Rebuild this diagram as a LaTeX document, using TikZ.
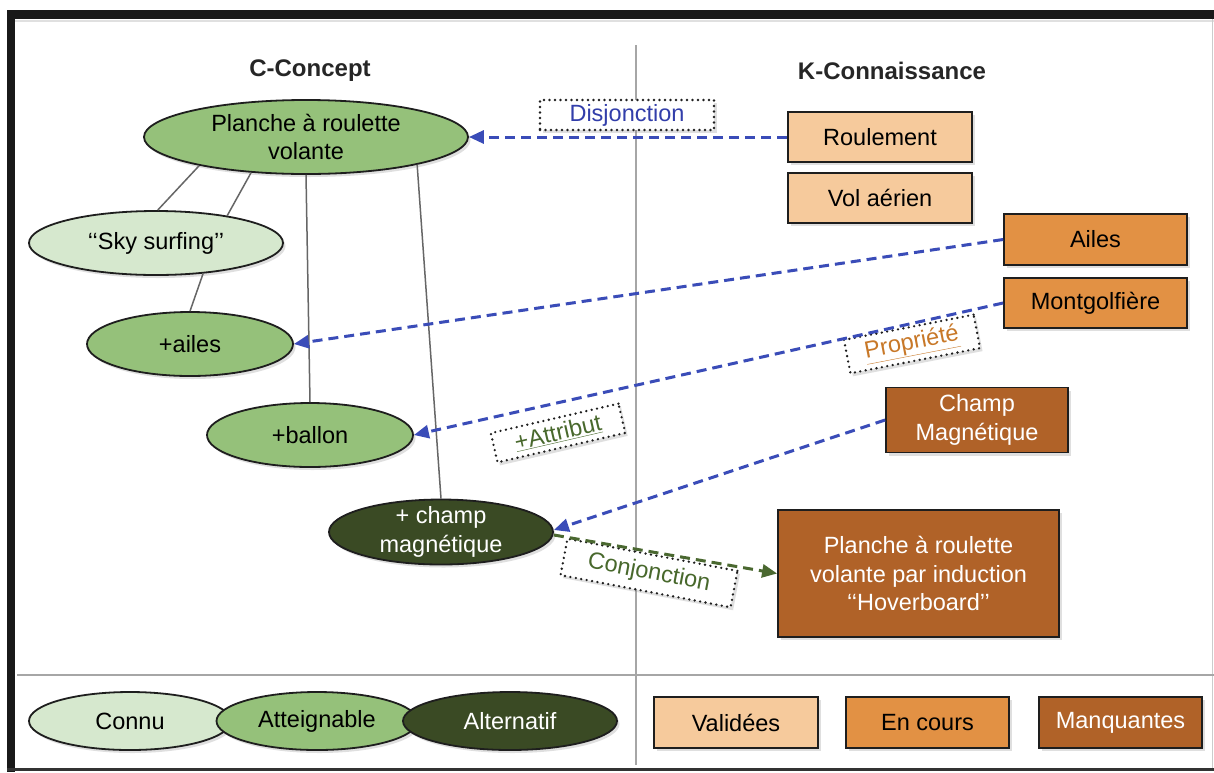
\documentclass[tikz,border=0pt]{standalone}
\usepackage{fontspec}
\setmainfont{Liberation Sans}
\usetikzlibrary{shapes.geometric,arrows.meta,shadows}
\definecolor{cLight}{RGB}{214,232,206}
\definecolor{cMid}{RGB}{149,193,122}
\definecolor{cDark}{RGB}{58,74,36}
\definecolor{oLight}{RGB}{246,202,156}
\definecolor{oMid}{RGB}{226,145,68}
\definecolor{oDark}{RGB}{176,98,40}
\definecolor{linkBlue}{RGB}{58,76,184}
\definecolor{linkGreen}{RGB}{74,104,48}
\definecolor{txtBlue}{RGB}{50,62,170}
\definecolor{txtGreen}{RGB}{72,104,44}
\definecolor{txtOrange}{RGB}{200,120,40}
\definecolor{edgeBlack}{RGB}{30,30,30}
\begin{document}
\begin{tikzpicture}[x=1pt,y=-1pt,
  every node/.style={font=\fontsize{23.5}{28.5}\selectfont},
  shad/.style={drop shadow={shadow xshift=2.5pt,shadow yshift=-3pt,opacity=0.25}},
  cnode/.style={ellipse, draw=edgeBlack, line width=1.8pt, inner sep=-3pt, align=center, shad},
  knode/.style={rectangle, draw=edgeBlack, line width=1.8pt, inner sep=0pt, align=center, shad},
  lab/.style={draw=edgeBlack, fill=white, line width=2.6pt, dash pattern=on 0pt off 5.5pt, line cap=round, inner sep=0pt, shad},
  header/.style={font=\bfseries\fontsize{24}{28}\selectfont, text=black!85},
  tree/.style={draw=black!60, line width=1.5pt},
  karrow/.style={draw=linkBlue, line width=3pt, dash pattern=on 10pt off 6pt, -{Triangle[length=15pt,width=13pt]}},
  garrow/.style={draw=linkGreen, line width=3pt, dash pattern=on 10pt off 6pt, -{Triangle[length=15pt,width=13pt]}},
  sep/.style={draw=black!35, line width=2pt}
]
\fill[white] (0,0) rectangle (1214,772);
\useasboundingbox (0,0) rectangle (1214,772);

% frame
\fill[black!90] (7,10) rectangle (1214,19);
\fill[black!90] (7,10) rectangle (15,772);
\fill[black!80] (7,768) rectangle (1214,771);
\draw[black!12, line width=2pt] (15,21) -- (1214,21);
\draw[black!20, line width=1pt] (1212,19) -- (1212,768);

% separators
\draw[sep] (636,45) -- (636,765);
\draw[sep] (17,675) -- (1214,675);

% headers
\node[header] (hC) at (310,71) {C-Concept};
\node[header] (hK) at (892,71) {K-Connaissance};

% C nodes
\node[cnode, fill=cMid, minimum width=324pt, minimum height=74pt] (planche) at (306,137) {Planche à roulette\\volante};
\node[cnode, fill=cLight, minimum width=254pt, minimum height=64pt] (sky) at (156,243) {‘‘Sky surfing’’};
\node[cnode, fill=cMid, minimum width=206pt, minimum height=64pt] (ailesC) at (190,344) {+ailes};
\node[cnode, fill=cMid, minimum width=206pt, minimum height=64pt] (ballon) at (310,435) {+ballon};
\node[cnode, fill=cDark, text=white, minimum width=224pt, minimum height=65pt] (champC) at (441,532) {+ champ\\magnétique};

% tree lines
\draw[tree] (planche.195) -- (sky.87);
\draw[tree] (planche.213) -- (sky.21);
\draw[tree] (sky.-33) -- (ailesC.north);
\draw[tree] (planche.south) -- (ballon.north);
\draw[tree] (planche.-14) -- (champC.north);

% K nodes
\node[knode, fill=oLight, minimum width=184pt, minimum height=50pt] (roul) at (880,137) {Roulement};
\node[knode, fill=oLight, minimum width=184pt, minimum height=50pt] (vol) at (880,198) {Vol aérien};
\node[knode, fill=oMid, minimum width=183pt, minimum height=51pt] (ailesK) at (1095.5,239.5) {Ailes};
\node[knode, fill=oMid, minimum width=183pt, minimum height=50pt] (mont) at (1095.5,303) {Montgolfière};
\node[knode, fill=oDark, text=white, minimum width=182pt, minimum height=65pt] (champK) at (977,420) {Champ\\Magnétique};
\node[knode, fill=oDark, text=white, minimum width=281pt, minimum height=127pt] (hover) at (918.5,573.5) {Planche à roulette\\volante par induction\\‘‘Hoverboard’’};

% label boxes
\node[lab, text=txtBlue, minimum width=174pt, minimum height=30pt] (disj) at (627,115) {Disjonction};
\node[lab, text=txtOrange, rotate=11, minimum width=132pt, minimum height=34pt] (prop) at (912,344) {\underline{Propriété}};
\node[lab, text=txtGreen, rotate=13, minimum width=131pt, minimum height=30pt] (attr) at (558,433) {\underline{+Attribut}};
\node[lab, text=txtGreen, rotate=-10.7, minimum width=173pt, minimum height=37pt] (conj) at (649,573) {Conjonction};

% connectors
\draw[karrow] (roul.west) -- (planche.east);
\draw[karrow] (ailesK.west) -- (ailesC.east);
\draw[karrow] (mont.west) -- (ballon.east);
\draw[karrow] (champK.west) -- ([yshift=2pt]champC.east);
\draw[garrow] ([yshift=-3pt]champC.east) -- (hover.west);

% legend
\node[cnode, fill=cLight, minimum width=202pt, minimum height=58pt] (lconnu) at (130,721) {Connu};
\node[cnode, fill=cMid, minimum width=201pt, minimum height=58pt] (latt) at (317,721) {Atteignable};
\node[cnode, fill=cDark, text=white, minimum width=214pt, minimum height=58pt] (lalt) at (510,721) {Alternatif};
\node[knode, fill=oLight, minimum width=164pt, minimum height=51pt] (lval) at (736,722.5) {Validées};
\node[knode, fill=oMid, minimum width=163pt, minimum height=51pt] (lenc) at (927.5,722.5) {En cours};
\node[knode, fill=oDark, text=white, minimum width=163pt, minimum height=51pt] (lman) at (1120.5,722.5) {Manquantes};
\end{tikzpicture}
\end{document}
